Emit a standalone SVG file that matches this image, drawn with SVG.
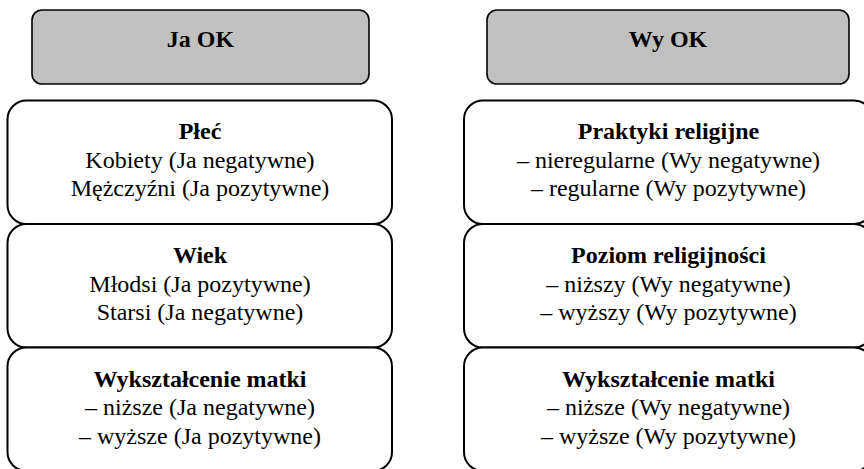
<svg xmlns="http://www.w3.org/2000/svg" width="864" height="469" viewBox="0 0 864 469">
<style>
.hdr{fill:#c0c0c0;stroke:#000;stroke-width:1.6}
.box{fill:#fff;stroke:#000;stroke-width:2}
text{font-family:"Liberation Serif","Times New Roman",serif;font-size:24px;fill:#000;text-anchor:middle}
.b{font-weight:bold}
</style>
<rect width="864" height="469" fill="#fff"/>
<g id="ja-ok"><rect class="hdr" x="32" y="10" width="337" height="74" rx="10"/><text class="b" x="200.5" y="47">Ja OK</text></g>
<g id="wy-ok"><rect class="hdr" x="487" y="10" width="362" height="74" rx="10"/><text class="b" x="668" y="47">Wy OK</text></g>
<g id="plec"><rect class="box" x="7.5" y="100.5" width="384.5" height="123.5" rx="19"/>
<text class="b" x="200" y="139">Płeć</text><text x="200" y="167.5">Kobiety (Ja negatywne)</text><text x="200" y="196">Mężczyźni (Ja pozytywne)</text></g>
<g id="wiek"><rect class="box" x="7.5" y="224" width="384.5" height="123.5" rx="19"/>
<text class="b" x="200" y="263">Wiek</text><text x="200" y="291.5">Młodsi (Ja pozytywne)</text><text x="200" y="320">Starsi (Ja negatywne)</text></g>
<g id="matka-ja"><rect class="box" x="7.5" y="347.5" width="384.5" height="123.5" rx="19"/>
<text class="b" x="200" y="386.5">Wykształcenie matki</text><text x="200" y="415">– niższe (Ja negatywne)</text><text x="200" y="443.5">– wyższe (Ja pozytywne)</text></g>
<g id="praktyki"><rect class="box" x="464" y="100.5" width="409" height="123.5" rx="19"/>
<text class="b" x="668.5" y="139">Praktyki religijne</text><text x="668.5" y="167.5">– nieregularne (Wy negatywne)</text><text x="668.5" y="196">– regularne (Wy pozytywne)</text></g>
<g id="poziom"><rect class="box" x="464" y="224" width="409" height="123.5" rx="19"/>
<text class="b" x="668.5" y="263">Poziom religijności</text><text x="668.5" y="291.5">– niższy (Wy negatywne)</text><text x="668.5" y="320">– wyższy (Wy pozytywne)</text></g>
<g id="matka-wy"><rect class="box" x="464" y="347.5" width="409" height="123.5" rx="19"/>
<text class="b" x="668.5" y="386.5">Wykształcenie matki</text><text x="668.5" y="415">– niższe (Wy negatywne)</text><text x="668.5" y="443.5">– wyższe (Wy pozytywne)</text></g>
<g id="connectors"/>
</svg>
